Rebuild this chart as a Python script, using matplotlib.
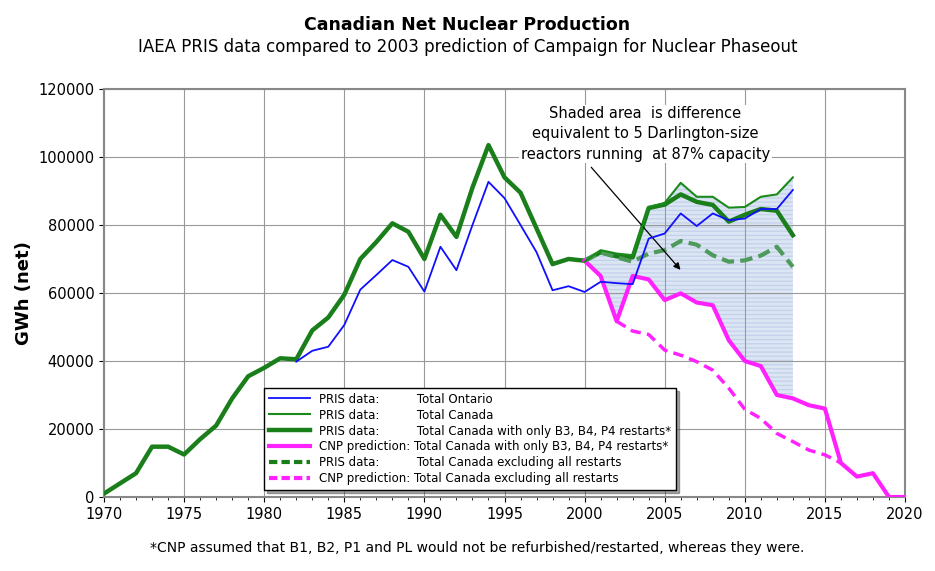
import numpy as np
import matplotlib.pyplot as plt
from matplotlib.ticker import MultipleLocator
from matplotlib.lines import Line2D

# Canada total (thick line) 1970-2013
years_all = list(range(1970, 2014))
canada_restarts = [1000, 4000, 7000, 14800, 14800, 12500, 17000, 21000, 29000, 35500,
                   38000, 40800, 40500, 49000, 52800, 59500, 70000, 75000, 80500, 78000,
                   70000, 83000, 76500, 91000, 103500, 94000, 89500, 79000, 68500, 70000,
                   69500, 72000, 70800, 70500, 85000, 86000, 89000, 86800, 85900, 81000,
                   83000, 84700, 84200, 77000]

years_ont = list(range(1982, 2014))
ontario = [39800, 43000, 44200, 50600, 61000, 65300, 69700, 67700, 60400, 73600,
           66700, 80000, 92700, 87900, 80000, 72000, 60800, 62000, 60300, 63300,
           62900, 62600, 76000, 77500, 83400, 79700, 83400, 81400, 81900, 84700,
           84700, 90300]

years_recent = list(range(2000, 2014))
canada_total = [69200, 72600, 71600, 71100, 85300, 86500, 92400, 88300, 88300, 85100,
                85300, 88300, 89000, 94000]
canada_no_restarts = [69500, 72000, 70500, 69200, 71600, 72600, 75300, 74200, 71100, 69200,
                      69600, 71000, 73600, 67700]

years_cnp = list(range(2000, 2021))
cnp_restarts = [69500, 65000, 51700, 65000, 64000, 57900, 59900, 57200, 56400, 46100,
                40000, 38500, 30000, 29000, 27000, 26000, 10000, 6000, 7000, 0, 0]
years_cnp_no = list(range(2002, 2017))
cnp_no_restarts = [51700, 48800, 47800, 43200, 41700, 39800, 37300, 32000, 25800, 23100,
                   18700, 16300, 13800, 12400, 10000]

fig = plt.figure(figsize=(9.35, 5.71), dpi=100)
ax = fig.add_axes([104/935, 1-497/571, 801/935, 408/571])

# shaded difference
ax.fill_between(years_recent, cnp_restarts[:len(years_recent)], canada_total,
                facecolor='#dbe5f4', edgecolor='#c5d3ea', hatch='----', linewidth=0, zorder=1)

ax.plot(years_all, canada_restarts, color='#1a7f1a', lw=3.2, zorder=3)
ax.plot(years_ont, ontario, color='#1010ff', lw=1.3, zorder=4)
ax.plot(years_recent, canada_total, color='#1a8a1a', lw=1.5, zorder=4)
ax.plot(years_recent, canada_no_restarts, color='#4d9a5a', lw=3, ls=(0, (3, 1.5)), zorder=3)
ax.plot(years_cnp_no, cnp_no_restarts, color='#ff22ff', lw=2.5, ls=(0, (3, 1.8)), zorder=3)
ax.plot(years_cnp, cnp_restarts, color='#ff22ff', lw=3, zorder=3)

ax.set_xlim(1970, 2020)
ax.set_ylim(0, 120000)
ax.xaxis.set_major_locator(MultipleLocator(5))
ax.yaxis.set_major_locator(MultipleLocator(20000))
ax.xaxis.set_minor_locator(MultipleLocator(1))
ax.grid(True, color='#999999', lw=0.8)
ax.tick_params(labelsize=10.5)
for s in ax.spines.values():
    s.set_color('#888888')
    s.set_linewidth(1.5)
ax.set_ylabel('GWh (net)', fontsize=13, fontweight='bold')

handles = [
    Line2D([], [], color='#1010ff', lw=1.3),
    Line2D([], [], color='#1a8a1a', lw=1.5),
    Line2D([], [], color='#1a7f1a', lw=3.2),
    Line2D([], [], color='#ff22ff', lw=3),
    Line2D([], [], color='#1a7f1a', lw=3, ls=(0, (2, 1))),
    Line2D([], [], color='#ff22ff', lw=3, ls=(0, (2, 1))),
]
labels = ['PRIS data:          Total Ontario',
          'PRIS data:          Total Canada',
          'PRIS data:          Total Canada with only B3, B4, P4 restarts*',
          'CNP prediction: Total Canada with only B3, B4, P4 restarts*',
          'PRIS data:          Total Canada excluding all restarts',
          'CNP prediction: Total Canada excluding all restarts']
leg = ax.legend(handles, labels, loc='upper left', bbox_to_anchor=(154/801, 1-(382-89)/408),
                fontsize=8.5, frameon=True, fancybox=False, shadow=True, framealpha=1,
                edgecolor='black', handlelength=3.5, labelspacing=0.25, borderpad=0.4)
leg.set_zorder(6)

ax.text(2003.8, 115000, 'Shaded area  is difference\nequivalent to 5 Darlington-size\nreactors running  at 87% capacity',
        fontsize=10.5, va='top', ha='center', linespacing=1.45,
        bbox=dict(facecolor='white', edgecolor='none', pad=1))
ax.annotate('', xy=(2006.1, 66200), xytext=(2000.3, 97600),
            arrowprops=dict(arrowstyle='-|>', color='black', lw=0.9))

fig.text(0.5, 1-25/571, 'Canadian Net Nuclear Production', ha='center', va='center',
         fontsize=12.5, fontweight='bold')
fig.text(0.5, 1-47/571, 'IAEA PRIS data compared to 2003 prediction of Campaign for Nuclear Phaseout',
         ha='center', va='center', fontsize=12)
fig.text(0.51, 1-548/571, '*CNP assumed that B1, B2, P1 and PL would not be refurbished/restarted, whereas they were.',
         ha='center', va='center', fontsize=10)

fig.savefig('out.png', dpi=100)
